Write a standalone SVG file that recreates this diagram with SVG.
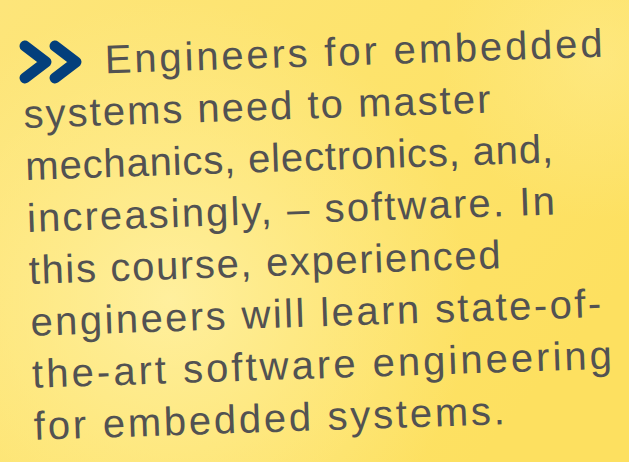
<svg xmlns="http://www.w3.org/2000/svg" width="629" height="462" viewBox="0 0 629 462">
  <defs>
    <linearGradient id="bg" x1="0" y1="0" x2="1" y2="0.6">
      <stop offset="0" stop-color="#fde57a"/>
      <stop offset="0.5" stop-color="#fde36c"/>
      <stop offset="1" stop-color="#fde060"/>
    </linearGradient>
    <radialGradient id="light" cx="170" cy="300" r="300" gradientUnits="userSpaceOnUse">
      <stop offset="0" stop-color="#fff0a0" stop-opacity="0.95"/>
      <stop offset="0.6" stop-color="#ffee98" stop-opacity="0.4"/>
      <stop offset="1" stop-color="#ffee98" stop-opacity="0"/>
    </radialGradient>
    <radialGradient id="light2" cx="600" cy="60" r="160" gradientUnits="userSpaceOnUse">
      <stop offset="0" stop-color="#feea88" stop-opacity="0.7"/>
      <stop offset="1" stop-color="#feea88" stop-opacity="0"/>
    </radialGradient>
    <style>
      .t { font-family: "Liberation Sans", "DejaVu Sans", sans-serif; font-size: 40px; fill: #525252; }
      .chev { fill: none; stroke: #033f7c; stroke-width: 11; stroke-linecap: round; stroke-linejoin: round; }
    </style>
  </defs>
  <rect width="629" height="462" fill="url(#bg)"/>
  <rect width="629" height="462" fill="url(#light)"/>
  <rect width="629" height="462" fill="url(#light2)"/>

  <g id="chevrons">
    <polyline class="chev" points="25,46 46,62 25,78"/>
    <polyline class="chev" points="55,46 76,62 55,78"/>
  </g>

  <g id="text" transform="rotate(-1.9 23 128)">
    <text class="t" x="107" y="76" textLength="498">Engineers for embedded</text>
    <text class="t" x="24" y="128" textLength="467">systems need to master</text>
    <text class="t" x="24" y="180" textLength="528">mechanics, electronics, and,</text>
    <text class="t" x="24" y="232" textLength="528">increasingly, – software. In</text>
    <text class="t" x="24" y="284" textLength="472">this course, experienced</text>
    <text class="t" x="24" y="336" textLength="571">engineers will learn state-of-</text>
    <text class="t" x="24" y="388" textLength="580">the-art software engineering</text>
    <text class="t" x="24" y="440" textLength="471">for embedded systems.</text>
  </g>
</svg>
